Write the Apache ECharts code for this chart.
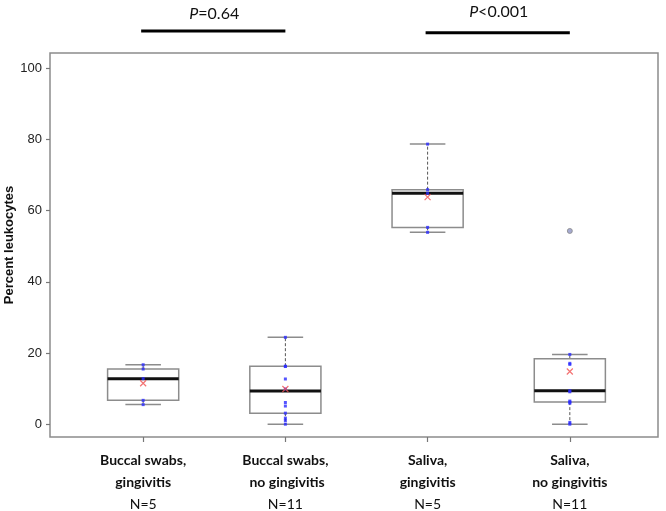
<!DOCTYPE html>
<html>
<head>
<meta charset="utf-8">
<script src="https://cdn.jsdelivr.net/npm/echarts@6/dist/echarts.min.js"></script>
<style>html,body{margin:0;padding:0;background:#fff}#c{width:666px;height:511px}</style>
</head>
<body>
<div id="c"></div>
<script>
// ---- data ----
const groupNames = [['Buccal swabs,', 'gingivitis'], ['Buccal swabs,', ' no gingivitis'], ['Saliva,', 'gingivitis'], ['Saliva,', 'no gingivitis']];
const groupN = ['N=5', 'N=11', 'N=5', 'N=11'];
const xPositions = [1, 2, 3, 4];
// [min whisker, Q1, median, Q3, max whisker]
const boxStats = [
  [5.5, 6.7, 12.8, 15.5, 16.7],
  [0.0, 3.1, 9.3, 16.3, 24.4],
  [53.9, 55.3, 64.9, 65.9, 78.7],
  [0.0, 6.2, 9.4, 18.4, 19.6]
];
const groupMeans = [11.5, 9.9, 63.8, 14.8];
const pointsG1 = [16.7, 15.5, 12.8, 6.7, 5.5];
const pointsG2 = [24.4, 16.3, 16.2, 12.7, 9.9, 6.1, 5.1, 3.1, 1.7, 1.0, 0.0];
const pointsG3 = [78.7, 65.9, 64.9, 55.3, 53.9];
const pointsG4 = [54.3, 19.6, 17.1, 16.8, 9.4, 9.1, 6.5, 6.2, 5.9, 0.5, 0.0];
const outliers = [[4, 54.3]];
const sigPairs = [[1, 2], [3, 4]];
const sigP = ['=0.64', '<0.001'];
const sigBarY = [110.5, 110.0];
const sigTextY = [115.3, 116.0];
const yTicks = [0, 20, 40, 60, 80, 100];

// ---- chart ----
const allPoints = [pointsG1, pointsG2, pointsG3, pointsG4];
const dotData = [];
allPoints.forEach((arr, i) => arr.forEach(v => {
  const isOut = outliers.some(o => o[0] === xPositions[i] && o[1] === v);
  if (!isOut) dotData.push([xPositions[i], v]);
}));

const chart = echarts.init(document.getElementById('c'));
const option = {
  animation: false,
  grid: { left: 50, right: 8, top: 53, bottom: 74, containLabel: false, outerBoundsMode: 'none', show: true, borderColor: '#8c8c8c', borderWidth: 1.5, backgroundColor: 'transparent' },
  xAxis: {
    type: 'value', min: 0.345, max: 4.62,
    axisLine: { show: false, onZero: false },
    splitLine: { show: false },
    axisTick: { show: true, customValues: xPositions, length: 5, lineStyle: { color: '#777', width: 1.2 } },
    axisLabel: {
      customValues: xPositions, margin: 12,
      formatter: function (v) {
        const i = xPositions.indexOf(v);
        if (i < 0) return '';
        return '{b|' + groupNames[i][0] + '}\n{b|' + groupNames[i][1] + '}\n{n|' + groupN[i] + '}';
      },
      rich: {
        b: { fontFamily: 'Lato', fontWeight: 'bold', fontSize: 14, color: '#111', lineHeight: 22, align: 'center' },
        n: { fontFamily: 'Lato', fontSize: 14, color: '#111', lineHeight: 22, align: 'center' }
      }
    }
  },
  yAxis: {
    type: 'value', min: -3.6, max: 104.3,
    name: 'Percent leukocytes', nameLocation: 'middle', nameGap: 34, nameMoveOverlap: false,
    nameTextStyle: { fontFamily: 'Liberation Sans', fontWeight: 'bold', fontSize: 13, color: '#111' },
    axisLine: { show: false, onZero: false },
    splitLine: { show: false },
    axisTick: { show: true, customValues: yTicks, length: 4, lineStyle: { color: '#777', width: 1.2 } },
    axisLabel: { customValues: yTicks, margin: 8, fontFamily: 'Liberation Sans', fontSize: 13, color: '#222' }
  },
  series: [
    {
      type: 'custom',
      data: boxStats.map((s, i) => [xPositions[i]].concat(s)),
      encode: { x: 0, y: [1, 2, 3, 4, 5] },
      renderItem: function (params, api) {
        const x = api.value(0);
        const mn = api.value(1), q1 = api.value(2), md = api.value(3), q3 = api.value(4), mx = api.value(5);
        const bw = 0.25, cw = 0.125;
        const p = (a, b) => api.coord([a, b]);
        const line = (a, b, st) => ({ type: 'line', shape: { x1: a[0], y1: a[1], x2: b[0], y2: b[1] }, style: st });
        const dash = { stroke: '#555', lineWidth: 1, lineDash: [3, 2] };
        const cap = { stroke: '#8c8c8c', lineWidth: 1.5 };
        const tl = p(x - bw, q3), br = p(x + bw, q1);
        return {
          type: 'group',
          children: [
            line(p(x, q3), p(x, mx), dash),
            line(p(x, q1), p(x, mn), dash),
            line(p(x - cw, mx), p(x + cw, mx), cap),
            line(p(x - cw, mn), p(x + cw, mn), cap),
            { type: 'rect', shape: { x: tl[0], y: tl[1], width: br[0] - tl[0], height: br[1] - tl[1] }, style: { fill: '#fff', stroke: '#8c8c8c', lineWidth: 1.5 } },
            line(p(x - bw, md), p(x + bw, md), { stroke: '#111', lineWidth: 3 })
          ]
        };
      },
      z: 2
    },
    {
      type: 'scatter', data: dotData, symbol: 'rect', symbolSize: 3,
      itemStyle: { color: '#2b2bff' }, z: 3
    },
    {
      type: 'scatter', data: outliers, symbol: 'circle', symbolSize: 5,
      itemStyle: { color: '#8f95c6', borderColor: '#888', borderWidth: 1 }, z: 3
    },
    {
      type: 'scatter', data: groupMeans.map((m, i) => [xPositions[i], m]),
      symbol: 'path://M0,0L10,10M10,0L0,10', symbolSize: 6,
      itemStyle: { color: 'none', borderColor: '#f05050', borderWidth: 1.2 }, z: 4
    },
    {
      type: 'custom', clip: false,
      data: sigPairs.map((s, i) => [s[0], s[1], sigBarY[i], sigTextY[i]]),
      encode: { x: [0, 1], y: [2] },
      renderItem: function (params, api) {
        const a = api.coord([api.value(0), api.value(2)]);
        const b = api.coord([api.value(1), api.value(2)]);
        const t = api.coord([(api.value(0) + api.value(1)) / 2, api.value(3)]);
        return {
          type: 'group',
          children: [
            { type: 'line', shape: { x1: a[0] - 2, y1: a[1], x2: b[0], y2: b[1] }, style: { stroke: '#000', lineWidth: 3 } },
            { type: 'text', x: t[0], y: t[1], style: {
                text: '{i|P}{r|' + sigP[params.dataIndex] + '}', align: 'center', verticalAlign: 'middle',
                rich: {
                  i: { fontFamily: 'Lato', fontStyle: 'italic', fontSize: 16, fill: '#111' },
                  r: { fontFamily: 'Lato', fontSize: 16, fill: '#111' }
                }
              } }
          ]
        };
      },
      z: 5
    }
  ]
};
chart.setOption(option);
</script>
</body>
</html>
